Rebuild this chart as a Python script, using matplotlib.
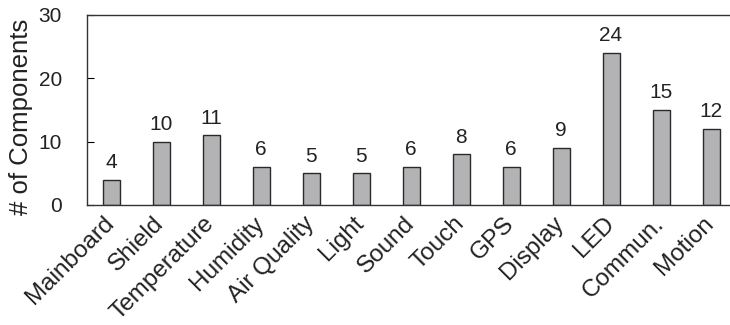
import matplotlib.pyplot as plt
import matplotlib.transforms as mtransforms
import numpy as np

# Daten
categories = ["Mainboard", "Shield", "Temperature", "Humidity", "Air Quality", "Light",
              "Sound", "Touch", "GPS", "Display", "LED", "Commun.", "Motion"]
counts = [4, 10, 11, 6, 5, 5, 6, 8, 6, 9, 24, 15, 12]

plt.rcParams['font.family'] = ['Liberation Sans', 'DejaVu Sans']
txt = '#222222'

fig = plt.figure(figsize=(7.3, 3.25), dpi=100)
ax = fig.add_axes([87 / 730, 120 / 325, 643 / 730, 190 / 325])

x = np.arange(len(categories))
ax.bar(x, counts, width=0.34, color='#b3b3b6', edgecolor='#2a2a2a', linewidth=1)

# Waarden boven de staven
for xi, c in zip(x, counts):
    ax.text(xi, c + 1.2, str(c), ha='center', va='bottom', fontsize=15, color=txt)

ax.set_xlim(-0.48, 12.38)
ax.set_ylim(0, 30)
ax.set_yticks([0, 10, 20, 30])
ax.set_xticks(x)
ax.set_xticklabels(categories, rotation=45, ha='right', va='top',
                   rotation_mode='anchor', fontsize=17.5, color=txt)
ax.tick_params(axis='x', length=0, pad=6)
ax.tick_params(axis='y', direction='in', length=5, labelsize=15, labelcolor=txt, pad=18)
ax.set_ylabel('# of Components', fontsize=18.5, color=txt)
ax.yaxis.set_label_coords(-0.084, 0.463)

# labels iets naar links/omhoog schuiven (in pixels)
offset = mtransforms.ScaledTranslation(-8 / 100, 1 / 100, fig.dpi_scale_trans)
for lab in ax.get_xticklabels():
    lab.set_transform(lab.get_transform() + offset)

ax.spines['right'].set_visible(False)
for s in ['left', 'top', 'bottom']:
    ax.spines[s].set_color('#333333')
    ax.spines[s].set_linewidth(1)

fig.savefig('out.png', dpi=100)
